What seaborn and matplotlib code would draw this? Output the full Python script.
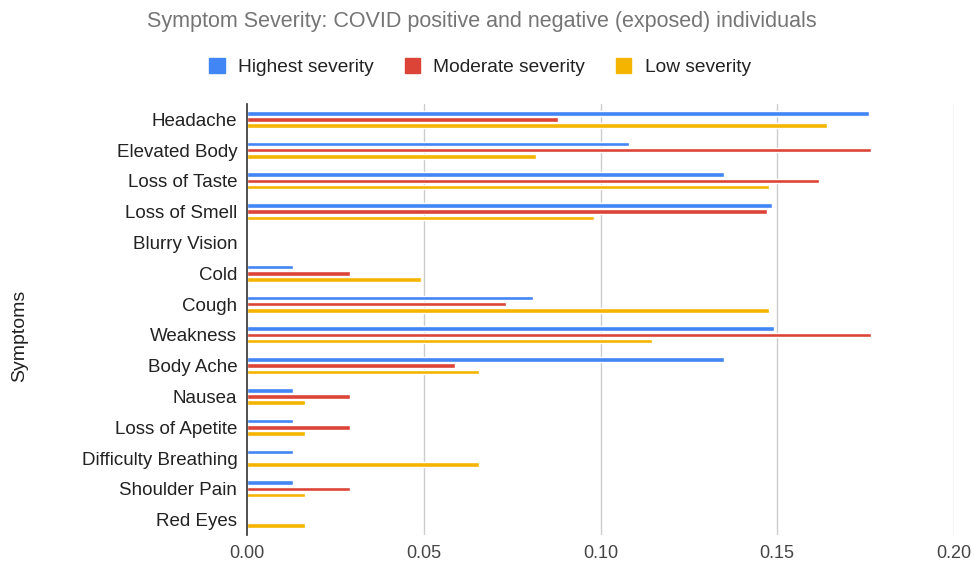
import matplotlib
matplotlib.use("Agg")
import matplotlib.pyplot as plt
import seaborn as sns
import pandas as pd
from matplotlib.patches import Patch

symptoms = ["Headache", "Elevated Body", "Loss of Taste", "Loss of Smell", "Blurry Vision",
            "Cold", "Cough", "Weakness", "Body Ache", "Nausea", "Loss of Apetite",
            "Difficulty Breathing", "Shoulder Pain", "Red Eyes"]
highest = [0.176, 0.108, 0.135, 0.1485, 0.0, 0.0131, 0.081, 0.149, 0.135, 0.0131, 0.0131, 0.0131, 0.0131, 0.0]
moderate = [0.088, 0.1765, 0.1617, 0.1472, 0.0, 0.029, 0.0732, 0.1765, 0.0589, 0.029, 0.029, 0.0, 0.029, 0.0]
low = [0.164, 0.0818, 0.1477, 0.0982, 0.0, 0.0491, 0.1477, 0.1147, 0.0655, 0.0164, 0.0164, 0.0655, 0.0164, 0.0164]
series = ["Highest severity", "Moderate severity", "Low severity"]
colors = ["#4285F4", "#DB4437", "#F4B400"]
xticks = [0.0, 0.05, 0.10, 0.15, 0.20]

rows = []
for name, vals in zip(series, [highest, moderate, low]):
    for s, v in zip(symptoms, vals):
        rows.append({"Symptom": s, "Series": name, "Value": v})
df = pd.DataFrame(rows)

sns.set_style("white")
plt.rcParams["font.family"] = ["Liberation Sans", "DejaVu Sans"]

fig = plt.figure(figsize=(9.74, 5.69), dpi=100)
ax = fig.add_axes([247/974, 1-535/569, (954-247)/974, (535-104)/569])

sns.barplot(data=df, x="Value", y="Symptom", hue="Series", order=symptoms,
            hue_order=series, palette=colors, orient="h", width=0.6, gap=0.25,
            saturation=1, legend=False, ax=ax)

ax.set_xlim(0, 0.2)
ax.set_xticks(xticks)
ax.set_xticklabels([f"{t:.2f}" for t in xticks], color="#444444", fontsize=13)
ax.tick_params(axis="y", labelsize=13.5, labelcolor="#222222", length=0, pad=7)
ax.tick_params(axis="x", length=0, pad=7)
ax.set_xlabel("")
ax.set_ylabel("Symptoms", fontsize=14, color="#222222")
ax.yaxis.set_label_coords((28 - 247) / 707, 0.5 - 16 / 431)
for t in xticks[1:]:
    ax.axvline(t, color="#cccccc", lw=1, zorder=0)
for sp in ["top", "right", "bottom"]:
    ax.spines[sp].set_visible(False)
ax.spines["left"].set_color("#333333")
ax.spines["left"].set_linewidth(1.2)
ax.set_ylim(len(symptoms) - 0.5, -0.5)

fig.text(482/974, 1-22/569, "Symptom Severity: COVID positive and negative (exposed) individuals",
         ha="center", va="center", fontsize=15.5, color="#757575")
handles = [Patch(facecolor=c, edgecolor=c) for c in colors]
fig.legend(handles, series, loc="center", bbox_to_anchor=(480/974, 1-67/569), ncol=3,
           frameon=False, fontsize=13.8, handlelength=0.8, handleheight=0.8,
           columnspacing=1.6, handletextpad=0.7, labelcolor="#222222")

fig.savefig("out.png", dpi=100)
